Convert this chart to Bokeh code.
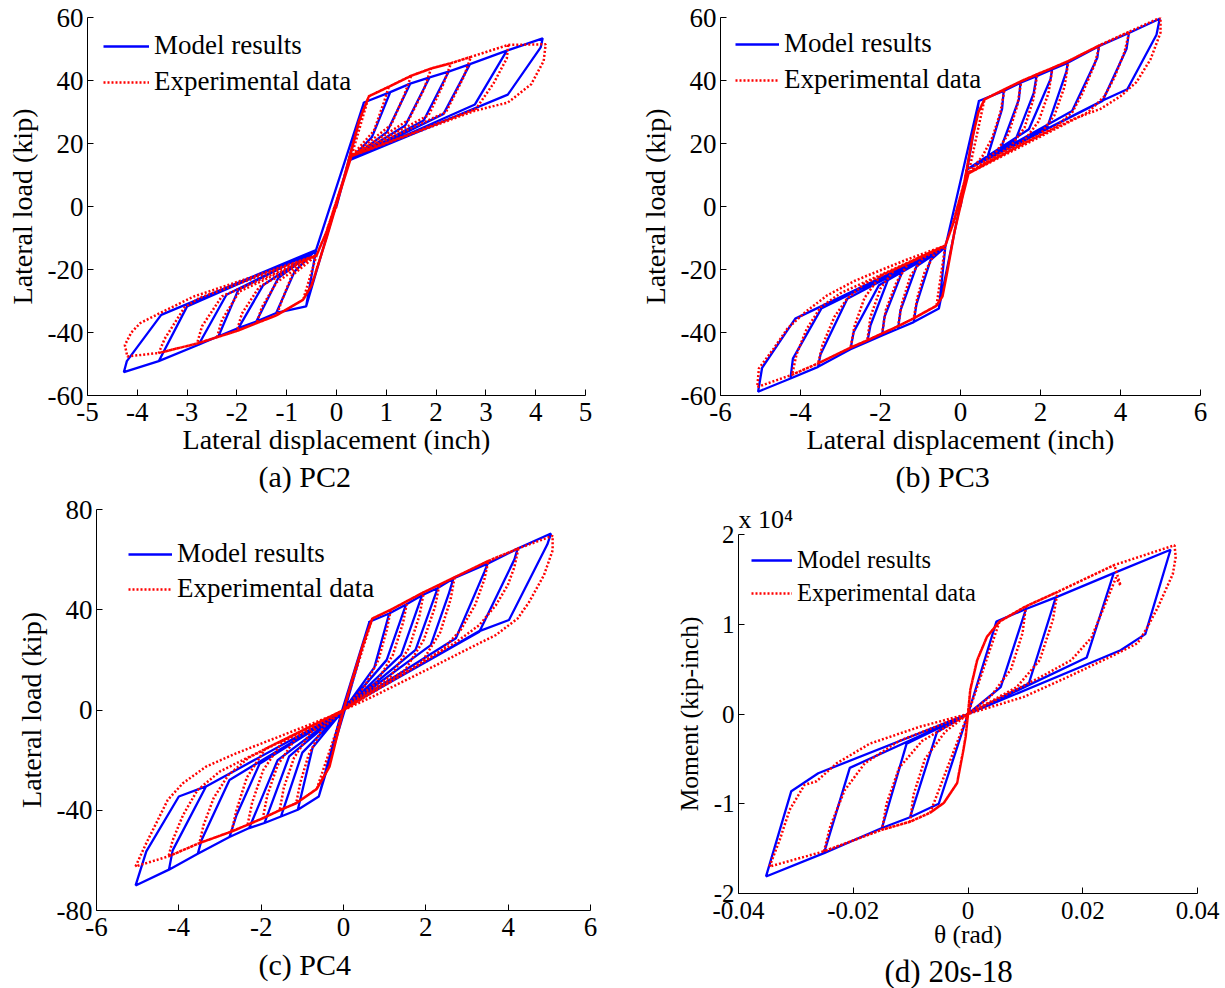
from bokeh.plotting import figure
from bokeh.layouts import row, column
from bokeh.models import (Range1d, FixedTicker, Legend, LegendItem, Title, Spacer,
                          CustomJSTickFormatter)
from bokeh.embed import file_html
from bokeh.resources import INLINE

FONT = "Liberation Serif"
BLUE = "#0000ff"
RED = "#ff0000"

# ---------------- (a) PC2 : lateral displacement (inch) vs lateral load (kip)
a_mod_cen_p = []
a_mod_bb_p = [(0.55, 33.0), (1.08, 36.3), (1.48, 39.0), (1.87, 41.0), (2.25, 42.8), (2.68, 45.2), (3.42, 49.5), (4.14, 53.4)]
a_mod_unl_p = [[], [(0.71, 22.0)], [(1.01, 23.6)], [(1.38, 25.7)], [(1.75, 27.3)], [(2.15, 29.4)], [(2.78, 32.4)],
               [(4.10, 50.5), (3.44, 35.5)]]
a_mod_piv_p = (0.25, 14.6)
a_mod_cen_n = []
a_mod_bb_n = [(-0.61, -31.7), (-1.21, -33.8), (-1.61, -36.5), (-1.97, -38.6), (-2.37, -41.2), (-2.77, -43.9), (-3.57, -49.1), (-4.27, -52.6)]
a_mod_unl_n = [[], [(-0.84, -20.6)], [(-1.17, -22.7)], [(-1.47, -24.9)], [(-1.97, -26.4)], [(-2.21, -28.0)], [(-3.0, -31.7)],
               [(-4.21, -49.1), (-3.52, -34.4)]]
a_mod_piv_n = (-0.41, -13.8)

a_exp_cen_p = [(-0.2, -8.0), (0.15, 9.0), (0.45, 27.0)]
a_exp_bb_p = [(0.65, 35.0), (1.05, 38.0), (1.5, 41.5), (1.9, 43.8), (2.3, 45.5), (2.7, 47.5), (3.45, 51.3), (4.2, 51.5)]
a_exp_unl_p = [[], [(0.95, 33.0), (0.75, 24.0)], [(1.35, 35.0), (1.1, 26.0)], [(1.75, 37.0), (1.45, 27.5)],
               [(2.15, 39.0), (1.85, 29.0)], [(2.55, 41.0), (2.2, 30.0)], [(3.42, 47.0), (3.15, 39.0), (2.8, 31.0)],
               [(4.16, 46.2), (3.91, 38.8), (3.44, 33.0), (2.78, 30.4)]]
a_exp_piv_p = (0.3, 16.0)
a_exp_cen_n = [(0.1, 6.0), (-0.2, -10.0), (-0.5, -25.0)]
a_exp_bb_n = [(-0.67, -29.6), (-1.2, -34.5), (-1.6, -37.0), (-2.0, -39.5), (-2.4, -41.5), (-2.8, -43.5), (-3.57, -46.5), (-4.2, -47.6)]
a_exp_unl_n = [[], [(-1.1, -30.0), (-0.9, -22.0)], [(-1.5, -32.0), (-1.2, -24.0)], [(-1.9, -34.0), (-1.55, -25.5)],
               [(-2.3, -36.0), (-1.95, -27.0)], [(-2.7, -38.0), (-2.3, -28.5)],
               [(-3.45, -42.0), (-3.05, -32.0), (-2.75, -29.0)],
               [(-4.25, -44.0), (-4.12, -40.0), (-3.94, -37.0), (-3.54, -33.8), (-2.87, -28.6)]]
a_exp_piv_n = (-0.4, -15.5)

# ---------------- (b) PC3
b_mod_cen_p = []
b_mod_bb_p = [(0.46, 33.5), (1.08, 36.7), (1.5, 39.3), (1.9, 41.4), (2.29, 43.5), (2.68, 45.6), (3.46, 50.9), (4.21, 55.1), (4.98, 59.6)]
b_mod_unl_p = [[], [(1.04, 31.0), (0.67, 15.5)], [(1.46, 34.0), (1.0, 18.2)], [(1.83, 36.0), (1.38, 21.3)],
               [(2.25, 40.4), (1.71, 24.5)], [(2.65, 43.0), (2.17, 25.2)], [(3.42, 47.2), (2.79, 30.3)],
               [(4.15, 50.0), (3.55, 33.5)], [(4.9, 54.5), (4.17, 37.2), (3.58, 33.8)]]
b_mod_piv_p = (0.17, 11.8)
b_mod_cen_n = []
b_mod_bb_n = [(-0.54, -32.4), (-1.17, -36.7), (-1.56, -38.8), (-1.96, -40.9), (-2.33, -43.0), (-2.75, -45.3), (-3.56, -50.9), (-4.25, -54.6), (-5.06, -58.8)]
b_mod_unl_n = [[], [(-1.1, -31.0), (-0.75, -17.0)], [(-1.5, -33.0), (-1.1, -19.0)], [(-1.9, -35.0), (-1.45, -20.5)],
               [(-2.25, -37.7), (-1.79, -22.5)], [(-2.67, -39.8), (-2.04, -25.0)], [(-3.5, -47.0), (-2.83, -29.3)],
               [(-4.19, -48.3), (-3.48, -32.4)], [(-4.96, -51.2), (-4.33, -39.3), (-4.13, -35.6)]]
b_mod_piv_n = (-0.38, -12.9)

b_exp_cen_p = [(-0.2, -6.0), (0.1, 8.0), (0.3, 22.0), (0.45, 30.0)]
b_exp_bb_p = [(0.6, 34.0), (1.1, 37.2), (1.52, 39.8), (1.92, 42.0), (2.3, 44.0), (2.7, 46.2), (3.48, 51.2), (4.22, 55.5), (5.0, 60.0)]
b_exp_unl_p = [[], [(1.0, 30.0), (0.8, 22.0), (0.55, 16.0)], [(1.42, 32.0), (1.2, 23.0), (0.9, 17.5)],
               [(1.82, 34.0), (1.6, 25.0), (1.25, 19.0)], [(2.2, 36.0), (1.95, 27.0), (1.6, 21.0)],
               [(2.6, 38.0), (2.35, 29.0), (2.0, 23.0)], [(3.35, 45.0), (3.05, 36.0), (2.8, 30.0), (2.4, 25.5)],
               [(4.1, 49.0), (3.85, 41.0), (3.6, 35.0), (3.2, 30.0)],
               [(5.0, 55.2), (4.75, 46.7), (4.4, 39.5), (4.0, 35.0), (3.5, 31.0), (2.83, 27.8), (1.42, 19.0)]]
b_exp_piv_p = (0.2, 10.5)
b_exp_cen_n = [(0.05, 3.0), (-0.15, -8.0), (-0.35, -22.0), (-0.45, -28.5)]
b_exp_bb_n = [(-0.6, -31.5), (-1.17, -35.5), (-1.56, -38.0), (-1.96, -40.3), (-2.33, -42.5), (-2.75, -44.8), (-3.56, -49.8), (-4.21, -53.4), (-5.08, -57.3)]
b_exp_unl_n = [[], [(-1.08, -29.0), (-0.9, -21.0), (-0.65, -15.0)], [(-1.47, -31.0), (-1.25, -22.0), (-0.95, -16.5)],
               [(-1.87, -33.0), (-1.6, -24.0), (-1.3, -18.0)], [(-2.25, -35.0), (-2.0, -26.0), (-1.65, -20.0)],
               [(-2.65, -38.0), (-2.4, -29.0), (-2.0, -22.0)], [(-3.45, -44.0), (-3.15, -35.0), (-2.85, -29.5), (-2.4, -24.5)],
               [(-4.1, -47.0), (-3.85, -39.0), (-3.5, -32.0), (-3.0, -27.5)],
               [(-5.04, -51.4), (-4.67, -45.1), (-4.33, -38.8), (-3.88, -33.5), (-3.33, -28.2), (-2.63, -23.5), (-1.29, -16.6)]]
b_exp_piv_n = (-0.38, -12.4)

# ---------------- (c) PC4
c_mod_cen_p = []
c_mod_bb_p = [(0.63, 35.2), (1.11, 38.5), (1.52, 42.1), (1.91, 45.8), (2.29, 48.7), (2.67, 52.5), (3.5, 58.4), (4.23, 64.4), (5.04, 70.4)]
c_mod_unl_p = [[], [(0.75, 17.0)], [(1.05, 20.0)], [(1.4, 22.0)], [(1.75, 24.0)], [(2.55, 46.0), (2.12, 25.9)],
               [(3.42, 55.0), (2.73, 28.6)], [(4.15, 60.0), (3.3, 31.2)], [(4.95, 66.0), (4.02, 35.9), (3.3, 31.5)]]
c_mod_piv_p = (0.05, 1.0)
c_mod_cen_n = []
c_mod_bb_n = [(-0.6, -34.5), (-1.11, -39.8), (-1.52, -42.5), (-1.92, -45.1), (-2.29, -47.1), (-2.77, -50.7), (-3.54, -57.4), (-4.24, -63.7), (-5.05, -70.0)]
c_mod_unl_n = [[], [(-0.75, -15.0)], [(-1.0, -17.0)], [(-1.32, -18.5)], [(-1.6, -20.0)], [(-2.6, -42.0), (-2.04, -21.5)],
               [(-3.45, -52.0), (-2.77, -27.9)], [(-4.15, -56.0), (-3.34, -30.5)], [(-4.79, -56.4), (-4.0, -34.5), (-3.34, -30.5)]]
c_mod_piv_n = (-0.05, -1.0)

c_exp_cen_p = [(0.22, 12.6), (0.47, 25.9)]
c_exp_bb_p = [(0.7, 36.5), (1.15, 40.0), (1.55, 43.5), (1.95, 47.0), (2.33, 50.0), (2.7, 53.0), (3.52, 59.5), (4.25, 64.5), (5.08, 69.5)]
c_exp_unl_p = [[], [(1.05, 32.0), (0.85, 20.0), (0.5, 9.0)], [(1.45, 35.0), (1.2, 22.0), (0.8, 11.0)],
               [(1.85, 38.0), (1.6, 25.0), (1.15, 13.5)], [(2.22, 41.0), (1.95, 28.0), (1.5, 16.0)],
               [(2.6, 44.0), (2.35, 31.0), (1.9, 19.0)], [(3.42, 52.0), (3.2, 42.0), (2.85, 32.0), (2.4, 24.0)],
               [(4.15, 57.0), (3.99, 49.8), (3.7, 41.8), (3.3, 33.9), (2.73, 27.0)],
               [(5.08, 63.7), (4.87, 53.8), (4.51, 43.1), (4.23, 36.5), (3.7, 29.9), (3.05, 24.6), (2.25, 17.9), (1.44, 11.3), (0.63, 4.7)]]
c_exp_piv_p = (0.0, 0.0)
c_exp_cen_n = [(-0.1, -6.6), (-0.34, -22.6)]
c_exp_bb_n = [(-0.65, -31.5), (-1.15, -37.2), (-1.55, -40.0), (-1.96, -43.2), (-2.33, -45.8), (-2.72, -48.5), (-3.5, -53.1), (-4.25, -58.4), (-5.05, -62.4)]
c_exp_unl_n = [[], [(-1.05, -29.0), (-0.85, -18.0), (-0.5, -7.0)], [(-1.45, -31.0), (-1.2, -19.0), (-0.8, -9.0)],
               [(-1.85, -34.0), (-1.6, -22.0), (-1.15, -11.0)], [(-2.22, -37.0), (-1.95, -24.0), (-1.5, -13.0)],
               [(-2.6, -40.0), (-2.35, -27.0), (-1.9, -15.5)], [(-3.4, -46.0), (-3.15, -35.0), (-2.8, -26.0), (-2.3, -19.0)],
               [(-4.15, -52.0), (-3.9, -42.0), (-3.55, -32.0), (-3.0, -24.5)],
               [(-4.79, -53.1), (-4.55, -45.2), (-4.27, -35.9), (-3.9, -29.2), (-3.34, -22.6), (-2.61, -17.3), (-1.56, -10.6), (-0.34, -2.7)]]
c_exp_piv_n = (0.0, 0.0)

# ---------------- (d) 20s-18 : rotation (rad) vs moment (kip-inch)
d_mod_cen_p = []
d_mod_bb_p = [(0.00495, 10300), (0.0101, 11700), (0.0153, 13000), (0.0254, 15700), (0.0353, 18300)]
d_mod_unl_p = [[], [(0.0057, 3000)], [(0.0106, 3400)], [(0.0207, 6300)], [(0.0309, 8900), (0.0266, 7100)]]
d_mod_piv_p = (0.0, 0.0)
d_mod_cen_n = []
d_mod_bb_n = [(-0.0051, -10000), (-0.0101, -11500), (-0.0150, -12700), (-0.0251, -15500), (-0.0352, -18100)]
d_mod_unl_n = [[], [(-0.0054, -2000)], [(-0.0107, -3300)], [(-0.0206, -6000)], [(-0.0308, -8600), (-0.0261, -6600)]]
d_mod_piv_n = (0.0, 0.0)

d_exp_cen_p = [(0.0004, 2700), (0.0016, 6000), (0.0033, 8600)]
d_exp_bb_p = [(0.0055, 10300), (0.0101, 12000), (0.0156, 13600), (0.0255, 16600), (0.036, 18800)]
d_exp_unl_p = [[], [(0.0095, 9000), (0.0075, 5000), (0.004, 2000)], [(0.0148, 10500), (0.0125, 6000), (0.0085, 3000)],
               [(0.0266, 14300), (0.0258, 15200), (0.0237, 11900), (0.0215, 8500), (0.018, 6000), (0.0126, 4100)],
               [(0.0362, 17500), (0.0357, 15600), (0.0331, 11900), (0.0313, 9700), (0.0296, 7900), (0.0249, 6400), (0.0173, 4100), (0.0097, 1900)]]
d_exp_piv_p = (0.0, 0.0)
d_exp_cen_n = [(-0.0004, -2500), (-0.0008, -4000), (-0.0019, -7700), (-0.0042, -9900)]
d_exp_bb_n = [(-0.0066, -11000), (-0.0101, -12000), (-0.015, -12900), (-0.0251, -15300), (-0.0346, -17000)]
d_exp_unl_n = [[], [(-0.0095, -9000), (-0.0075, -5000), (-0.004, -2000)], [(-0.0142, -10000), (-0.012, -6000), (-0.008, -3000)],
               [(-0.024, -12500), (-0.0215, -8500), (-0.018, -5500), (-0.012, -3000)],
               [(-0.0328, -14000), (-0.0311, -10700), (-0.0285, -7900), (-0.0264, -7500), (-0.0229, -5500), (-0.0171, -3300), (-0.0083, -1400)]]
d_exp_piv_n = (0.0, 0.0)

# ---------------- axes: limits and tick values
a_xlim, a_ylim = (-5, 5), (-60, 60)
b_xlim, b_ylim = (-6, 6), (-60, 60)
c_xlim, c_ylim = (-6, 6), (-80, 80)
d_xlim, d_ylim = (-0.04, 0.04), (-20000, 20000)
a_xticks = [-5, -4, -3, -2, -1, 0, 1, 2, 3, 4, 5]
a_yticks = [-60, -40, -20, 0, 20, 40, 60]
b_xticks = [-6, -4, -2, 0, 2, 4, 6]
b_yticks = [-60, -40, -20, 0, 20, 40, 60]
c_xticks = [-6, -4, -2, 0, 2, 4, 6]
c_yticks = [-80, -40, 0, 40, 80]
d_xticks = [-0.04, -0.02, 0, 0.02, 0.04]
d_yticks = [-20000, -10000, 0, 10000, 20000]


def build(cen_p, bb_p, unl_p, piv_p, cen_n, bb_n, unl_n, piv_n):
    pts = [(0.0, 0.0)]
    for k in range(len(bb_p)):
        pts += list(cen_p) + list(bb_p[:k + 1]) + list(unl_p[k]) + [piv_p]
        pts += list(cen_n) + list(bb_n[:k + 1]) + list(unl_n[k]) + [piv_n]
    return [q[0] for q in pts], [q[1] for q in pts]


def panel(mod, exp, xlim, ylim, size, xticks, yticks, xlabel, ylabel, caption, cap_off,
          borders, fs, leg):
    mbl, mbr, mbt, mbb = borders
    p = figure(width=size[0], height=size[1], x_range=Range1d(*xlim), y_range=Range1d(*ylim),
               output_backend="svg", toolbar_location=None,
               min_border_left=mbl, min_border_right=mbr, min_border_top=mbt, min_border_bottom=mbb)
    p.grid.visible = False
    p.outline_line_color = None
    for ax in (p.xaxis[0], p.yaxis[0]):
        ax.axis_line_color = "black"
        ax.axis_line_width = 1
        ax.major_tick_in = 6
        ax.major_tick_out = 0
        ax.major_tick_line_color = "black"
        ax.minor_tick_line_color = None
        ax.major_label_text_font = FONT
        ax.major_label_text_font_size = fs["tick"]
        ax.major_label_text_color = "black"
        ax.axis_label_text_font = FONT
        ax.axis_label_text_font_style = "normal"
        ax.axis_label_text_font_size = fs["label"]
        ax.axis_label_text_color = "black"
        ax.formatter = CustomJSTickFormatter(code="return tick.toString();")
    p.xaxis.ticker = FixedTicker(ticks=xticks)
    p.yaxis.ticker = FixedTicker(ticks=yticks)
    p.xaxis.major_label_standoff = fs["xstand"]
    p.yaxis.major_label_standoff = 4
    p.xaxis.axis_label_standoff = fs["lstand"]
    p.yaxis.axis_label_standoff = 7
    if xlabel:
        p.xaxis.axis_label = xlabel
    p.yaxis.axis_label = ylabel

    mx, my = build(*mod)
    ex, ey = build(*exp)
    rb = p.line(mx, my, line_color=BLUE, line_width=2.3)
    rr = p.line(ex, ey, line_color=RED, line_width=2.5, line_dash="2 2")

    lg = Legend(items=[LegendItem(label="Model results", renderers=[rb]),
                       LegendItem(label="Experimental data", renderers=[rr])],
                location=(leg["vx"], leg["vy"]), margin=0, padding=10,
                glyph_width=leg["gw"], glyph_height=30, label_height=30, label_standoff=5,
                spacing=leg["sp"], border_line_color=None, background_fill_alpha=0,
                label_text_font=FONT, label_text_font_size=fs["legend"], label_text_color="black")
    p.add_layout(lg)
    p.add_layout(Title(text=caption, align="left", offset=cap_off, text_font=FONT,
                       text_font_size=fs["cap"], text_font_style="normal", text_color="black",
                       standoff=fs["tstand"]), "below")
    return p


fs_big = dict(tick="27px", label="28px", legend="27px", cap="30px", xstand=7, lstand=0, tstand=0)
fs_c = dict(tick="27px", label="28px", legend="27px", cap="30px", xstand=7, lstand=0, tstand=15)
fs_d = dict(tick="25px", label="25.5px", legend="24.5px", cap="31px", xstand=8, lstand=-2, tstand=0)

# frames (page px): a 87-585 x 17-395, b 720-1200 x 17-395, c 96-590 x 509-911, d 738-1197 x 534-894
pa = panel((a_mod_cen_p, a_mod_bb_p, a_mod_unl_p, a_mod_piv_p, a_mod_cen_n, a_mod_bb_n, a_mod_unl_n, a_mod_piv_n),
           (a_exp_cen_p, a_exp_bb_p, a_exp_unl_p, a_exp_piv_p, a_exp_cen_n, a_exp_bb_n, a_exp_unl_n, a_exp_piv_n),
           a_xlim, a_ylim, (612, 494), a_xticks, a_yticks,
           "Lateral displacement (inch)", "Lateral load (kip)", "(a) PC2", 171,
           (87, 27, 17, 99), fs_big, dict(vx=16, vy=298, gw=46, sp=5))
pc = panel((c_mod_cen_p, c_mod_bb_p, c_mod_unl_p, c_mod_piv_p, c_mod_cen_n, c_mod_bb_n, c_mod_unl_n, c_mod_piv_n),
           (c_exp_cen_p, c_exp_bb_p, c_exp_unl_p, c_exp_piv_p, c_exp_cen_n, c_exp_bb_n, c_exp_unl_n, c_exp_piv_n),
           c_xlim, c_ylim, (603, 494), c_xticks, c_yticks,
           None, "Lateral load (kip)", "(c) PC4", 162,
           (87, 22, 15, 77), fs_c, dict(vx=32, vy=306, gw=44, sp=4))
pb = panel((b_mod_cen_p, b_mod_bb_p, b_mod_unl_p, b_mod_piv_p, b_mod_cen_n, b_mod_bb_n, b_mod_unl_n, b_mod_piv_n),
           (b_exp_cen_p, b_exp_bb_p, b_exp_unl_p, b_exp_piv_p, b_exp_cen_n, b_exp_bb_n, b_exp_unl_n, b_exp_piv_n),
           b_xlim, b_ylim, (612, 494), b_xticks, b_yticks,
           "Lateral displacement (inch)", "Lateral load (kip)", "(b) PC3", 175,
           (108, 24, 17, 99), fs_big, dict(vx=15, vy=300, gw=44, sp=5))
pd = panel((d_mod_cen_p, d_mod_bb_p, d_mod_unl_p, d_mod_piv_p, d_mod_cen_n, d_mod_bb_n, d_mod_unl_n, d_mod_piv_n),
           (d_exp_cen_p, d_exp_bb_p, d_exp_unl_p, d_exp_piv_p, d_exp_cen_n, d_exp_bb_n, d_exp_unl_n, d_exp_piv_n),
           d_xlim, d_ylim, (594, 494), d_xticks, d_yticks,
           "\u03b8 (rad)", "Moment (kip-inch)", "(d) 20s-18", 146,
           (108, 27, 40, 94), fs_d, dict(vx=13, vy=285, gw=41, sp=3))
pd.yaxis.formatter = CustomJSTickFormatter(code="return (tick / 10000).toString();")
pd.add_layout(Title(text="x 10\u2074", align="left", offset=0, text_font=FONT,
                    text_font_size="26px", text_font_style="normal", text_color="black",
                    standoff=2), "above")

col1 = column(pa, row(Spacer(width=9, height=10), pc))
col2 = column(pb, row(Spacer(width=18, height=10), pd))
layout = row(col1, col2)
open("out.html", "w").write(file_html(layout, INLINE, "Hysteresis comparison"))
